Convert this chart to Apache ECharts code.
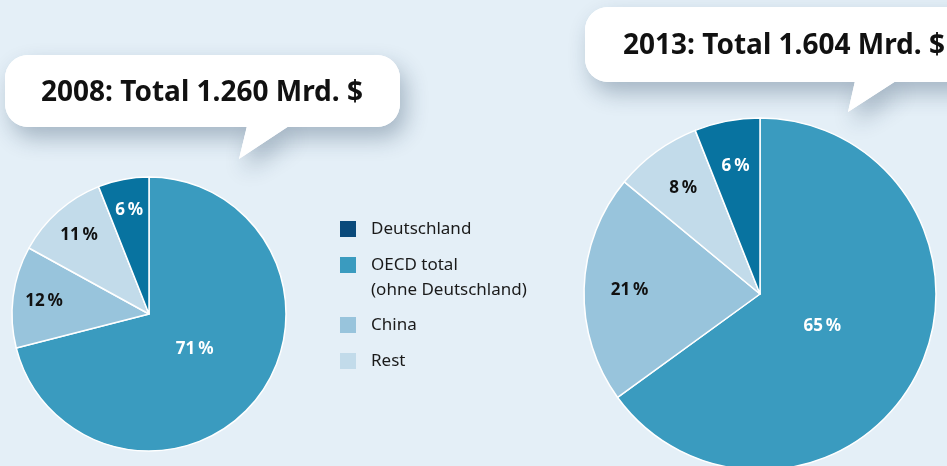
<!DOCTYPE html>
<html><head><meta charset="utf-8">
<script src="https://cdn.jsdelivr.net/npm/echarts@6/dist/echarts.min.js"></script>
<style>html,body{margin:0;padding:0;background:#e4eff7}#c{width:947px;height:466px}</style>
</head><body><div id="c"></div>
<script>
// ---- data ----
const categories = ['OECD total', 'China', 'Rest', 'Deutschland'];
const values2008 = [71, 12, 11, 6];
const values2013 = [65, 21, 8, 6];
const titles = ['2008: Total 1.260 Mrd. $', '2013: Total 1.604 Mrd. $'];
const legendOrder = ['Deutschland', 'OECD total', 'China', 'Rest'];
const legendText = ['Deutschland', 'OECD total\n(ohne Deutschland)', 'China', 'Rest'];

// ---- styles ----
const sliceColors = {'OECD total':'#3a9bbf','China':'#98c4dc','Rest':'#c2dbea','Deutschland':'#0873a0'};
const legendColors = {'OECD total':'#3a9bbf','China':'#98c4dc','Rest':'#c2dbea','Deutschland':'#0a4a7b'};
const labelColors = {'OECD total':'#ffffff','China':'#111111','Rest':'#111111','Deutschland':'#ffffff'};
const FONT = '"Noto Sans", "Open Sans", sans-serif';

const pies = [
  {values: values2008, center: [149, 314], r: 137, big: 0.8, small: 0.5},
  {values: values2013, center: [760, 294], r: 176, big: 0.76, small: 0.45}
];

const series = [];
pies.forEach((p) => {
  const mkData = (labelFilter) => categories.map((c, i) => ({
    name: c, value: p.values[i],
    itemStyle: {color: 'rgba(0,0,0,0)'},
    label: {show: labelFilter(c), color: labelColors[c]}
  }));
  series.push({
    type: 'pie', center: p.center, radius: [0, p.r], startAngle: 90, clockwise: true,
    animation: false, silent: true, label: {show: false}, labelLine: {show: false},
    itemStyle: {borderColor: '#ffffff', borderWidth: 1.5},
    emphasis: {disabled: true},
    data: categories.map((c, i) => ({name: c, value: p.values[i], itemStyle: {color: sliceColors[c]}}))
  });
  const labelCommon = {position: 'inside', fontFamily: FONT, fontWeight: 'bold', fontSize: 17,
            formatter: (d) => d.value + '\u2009%'};
  series.push({
    type: 'pie', center: p.center, radius: [0, p.r * p.big], startAngle: 90, clockwise: true,
    animation: false, silent: true, labelLine: {show: false}, emphasis: {disabled: true},
    itemStyle: {borderWidth: 0}, label: labelCommon,
    data: mkData(c => c === 'OECD total')
  });
  series.push({
    type: 'pie', center: p.center, radius: [p.r * p.small, p.r], startAngle: 90, clockwise: true,
    animation: false, silent: true, labelLine: {show: false}, emphasis: {disabled: true},
    itemStyle: {borderWidth: 0}, label: labelCommon,
    data: mkData(c => c !== 'OECD total')
  });
});

// speech bubbles
const bubbles = [
  {rect: {x: 5, y: 55, width: 395, height: 72, r: 23}, tail: [[247,126],[239,159],[289,126]]},
  {rect: {x: 585, y: 7, width: 400, height: 75, r: 23}, tail: [[855,81],[848,112],[896,81]]}
];
const titlePos = [[202, 93], [784, 46]];
const graphics = [];
const shadow = {shadowBlur: 22, shadowColor: 'rgba(20,50,80,0.3)', shadowOffsetX: 6, shadowOffsetY: 11};
bubbles.forEach((b, i) => {
  graphics.push({type: 'rect', shape: b.rect, silent: true, z: 10, style: Object.assign({fill: '#ffffff'}, shadow)});
  graphics.push({type: 'polygon', shape: {points: b.tail}, silent: true, z: 10, style: Object.assign({fill: '#ffffff'}, shadow)});
  graphics.push({type: 'rect', shape: b.rect, silent: true, z: 11, style: {fill: '#ffffff'}});
  graphics.push({type: 'polygon', shape: {points: b.tail}, silent: true, z: 11, style: {fill: '#ffffff'}});
  graphics.push({type: 'text', x: titlePos[i][0], y: titlePos[i][1], z: 12, silent: true,
    style: {text: titles[i], fill: '#111111', font: 'bold 28px ' + FONT, textAlign: 'center', textVerticalAlign: 'middle'}});
});

// legend
const legendY = [229, 265, 325, 361];
legendOrder.forEach((c, i) => {
  graphics.push({type: 'rect', shape: {x: 340, y: legendY[i] - 8, width: 16, height: 16}, silent: true,
    style: {fill: legendColors[c]}});
  graphics.push({type: 'text', x: 371, y: legendY[i] - 12, silent: true,
    style: {text: legendText[i], fill: '#1a1a1a', font: '17px ' + FONT, lineHeight: 25, textVerticalAlign: 'top'}});
});

const chart = echarts.init(document.getElementById('c'), null, {renderer: 'canvas'});
chart.setOption({
  backgroundColor: '#e4eff7',
  animation: false,
  series: series,
  graphic: graphics
});
</script></body></html>
